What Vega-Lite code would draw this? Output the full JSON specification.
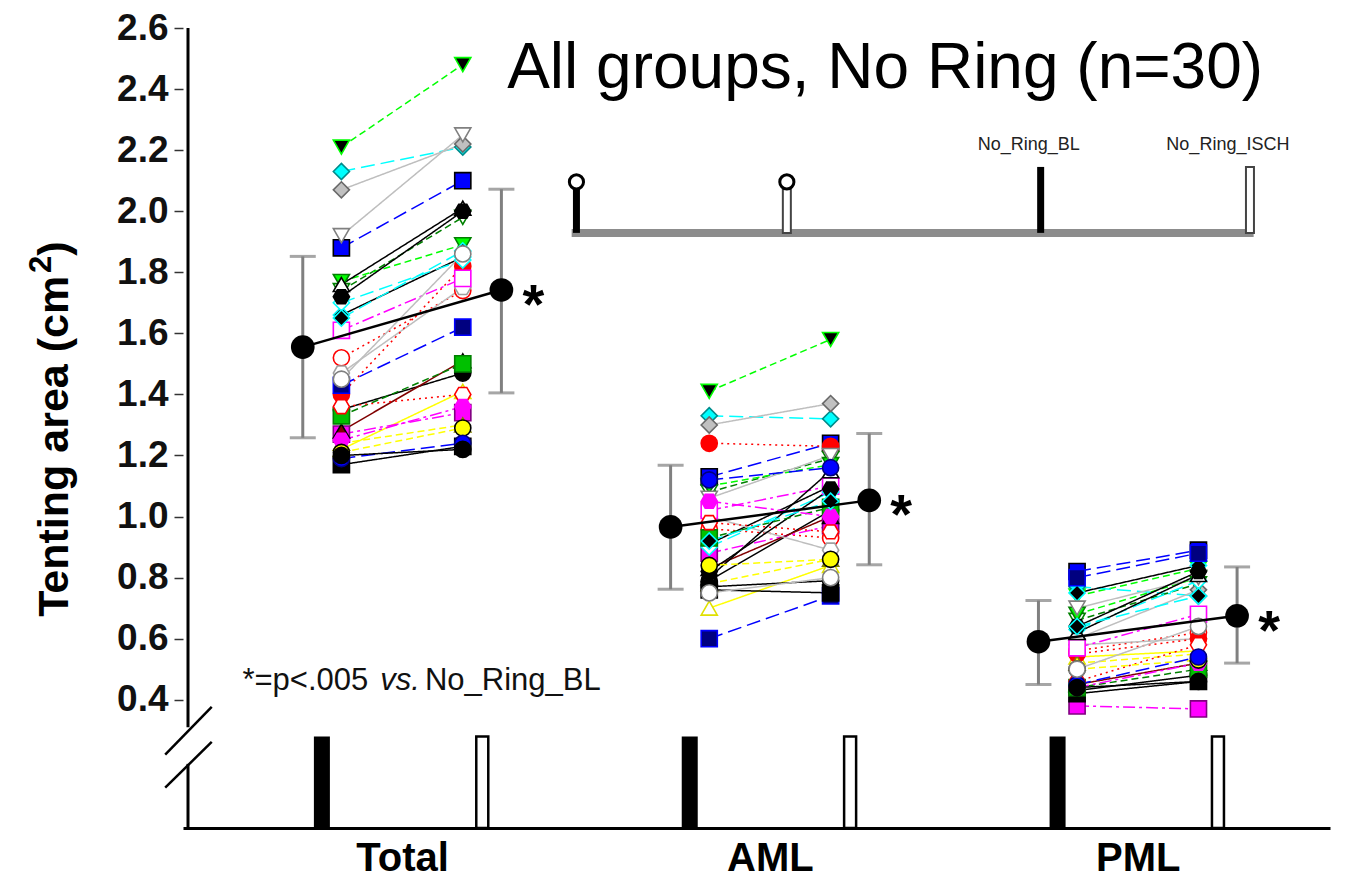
{
  "$schema": "https://vega.github.io/schema/vega-lite/v6.json",
  "width": 1147,
  "height": 800,
  "autosize": {"type": "none"},
  "padding": {"left": 183, "top": 28, "right": 21, "bottom": 67},
  "config": {"view": {"stroke": null}, "font": "Liberation Sans"},
  "datasets": {
    "subj": [
      {"s":"S1","g":"Total","BL":1.35,"ISCH":1.47},{"s":"S2","g":"Total","BL":1.52,"ISCH":1.74},{"s":"S3","g":"Total","BL":2.21,"ISCH":2.48},{"s":"S4","g":"Total","BL":1.22,"ISCH":1.41},{"s":"S5","g":"Total","BL":1.88,"ISCH":2.10},{"s":"S6","g":"Total","BL":1.27,"ISCH":1.34},{"s":"S7","g":"Total","BL":2.13,"ISCH":2.21},{"s":"S8","g":"Total","BL":2.07,"ISCH":2.22},{"s":"S9","g":"Total","BL":1.28,"ISCH":1.51},{"s":"S10","g":"Total","BL":1.74,"ISCH":1.98},
      {"s":"S11","g":"Total","BL":1.66,"ISCH":1.85},{"s":"S12","g":"Total","BL":1.47,"ISCH":1.75},{"s":"S13","g":"Total","BL":1.40,"ISCH":1.82},{"s":"S14","g":"Total","BL":1.77,"ISCH":1.89},{"s":"S15","g":"Total","BL":1.24,"ISCH":1.30},{"s":"S16","g":"Total","BL":1.43,"ISCH":1.62},{"s":"S17","g":"Total","BL":1.61,"ISCH":1.78},{"s":"S18","g":"Total","BL":1.70,"ISCH":1.84},{"s":"S19","g":"Total","BL":1.92,"ISCH":2.25},{"s":"S20","g":"Total","BL":1.17,"ISCH":1.23},
      {"s":"S21","g":"Total","BL":1.76,"ISCH":2.01},{"s":"S22","g":"Total","BL":1.72,"ISCH":2.00},{"s":"S23","g":"Total","BL":1.33,"ISCH":1.50},{"s":"S24","g":"Total","BL":1.36,"ISCH":1.40},{"s":"S25","g":"Total","BL":1.25,"ISCH":1.36},{"s":"S26","g":"Total","BL":1.21,"ISCH":1.29},{"s":"S27","g":"Total","BL":1.19,"ISCH":1.24},{"s":"S28","g":"Total","BL":1.20,"ISCH":1.22},{"s":"S29","g":"Total","BL":1.65,"ISCH":1.87},{"s":"S30","g":"Total","BL":1.45,"ISCH":1.86},
      {"s":"S1","g":"AML","BL":0.79,"ISCH":1.02},{"s":"S2","g":"AML","BL":0.96,"ISCH":0.93},{"s":"S3","g":"AML","BL":1.41,"ISCH":1.58},{"s":"S4","g":"AML","BL":0.70,"ISCH":0.84},{"s":"S5","g":"AML","BL":1.13,"ISCH":1.24},{"s":"S6","g":"AML","BL":0.88,"ISCH":0.97},{"s":"S7","g":"AML","BL":1.33,"ISCH":1.32},{"s":"S8","g":"AML","BL":1.30,"ISCH":1.37},{"s":"S9","g":"AML","BL":0.83,"ISCH":1.00},{"s":"S10","g":"AML","BL":1.08,"ISCH":1.19},
      {"s":"S11","g":"AML","BL":0.91,"ISCH":1.10},{"s":"S12","g":"AML","BL":1.00,"ISCH":0.89},{"s":"S13","g":"AML","BL":1.24,"ISCH":1.23},{"s":"S14","g":"AML","BL":1.10,"ISCH":1.17},{"s":"S15","g":"AML","BL":0.78,"ISCH":0.86},{"s":"S16","g":"AML","BL":0.60,"ISCH":0.74},{"s":"S17","g":"AML","BL":1.02,"ISCH":1.10},{"s":"S18","g":"AML","BL":0.90,"ISCH":1.08},{"s":"S19","g":"AML","BL":1.06,"ISCH":1.20},{"s":"S20","g":"AML","BL":0.76,"ISCH":0.75},
      {"s":"S21","g":"AML","BL":0.80,"ISCH":1.15},{"s":"S22","g":"AML","BL":0.82,"ISCH":1.09},{"s":"S23","g":"AML","BL":0.93,"ISCH":1.03},{"s":"S24","g":"AML","BL":0.98,"ISCH":0.95},{"s":"S25","g":"AML","BL":1.05,"ISCH":1.00},{"s":"S26","g":"AML","BL":0.84,"ISCH":0.86},{"s":"S27","g":"AML","BL":1.12,"ISCH":1.16},{"s":"S28","g":"AML","BL":0.77,"ISCH":0.79},{"s":"S29","g":"AML","BL":0.92,"ISCH":1.05},{"s":"S30","g":"AML","BL":0.75,"ISCH":0.80},
      {"s":"S1","g":"PML","BL":0.43,"ISCH":0.48},{"s":"S2","g":"PML","BL":0.56,"ISCH":0.62},{"s":"S3","g":"PML","BL":0.74,"ISCH":0.83},{"s":"S4","g":"PML","BL":0.54,"ISCH":0.56},{"s":"S5","g":"PML","BL":0.82,"ISCH":0.89},{"s":"S6","g":"PML","BL":0.38,"ISCH":0.37},{"s":"S7","g":"PML","BL":0.77,"ISCH":0.74},{"s":"S8","g":"PML","BL":0.60,"ISCH":0.76},{"s":"S9","g":"PML","BL":0.45,"ISCH":0.52},{"s":"S10","g":"PML","BL":0.66,"ISCH":0.78},
      {"s":"S11","g":"PML","BL":0.75,"ISCH":0.84},{"s":"S12","g":"PML","BL":0.58,"ISCH":0.60},{"s":"S13","g":"PML","BL":0.55,"ISCH":0.60},{"s":"S14","g":"PML","BL":0.68,"ISCH":0.80},{"s":"S15","g":"PML","BL":0.52,"ISCH":0.55},{"s":"S16","g":"PML","BL":0.80,"ISCH":0.88},{"s":"S17","g":"PML","BL":0.57,"ISCH":0.68},{"s":"S18","g":"PML","BL":0.63,"ISCH":0.79},{"s":"S19","g":"PML","BL":0.70,"ISCH":0.80},{"s":"S20","g":"PML","BL":0.42,"ISCH":0.46},
      {"s":"S21","g":"PML","BL":0.62,"ISCH":0.81},{"s":"S22","g":"PML","BL":0.64,"ISCH":0.82},{"s":"S23","g":"PML","BL":0.44,"ISCH":0.50},{"s":"S24","g":"PML","BL":0.46,"ISCH":0.58},{"s":"S25","g":"PML","BL":0.44,"ISCH":0.52},{"s":"S26","g":"PML","BL":0.50,"ISCH":0.53},{"s":"S27","g":"PML","BL":0.45,"ISCH":0.54},{"s":"S28","g":"PML","BL":0.44,"ISCH":0.46},{"s":"S29","g":"PML","BL":0.64,"ISCH":0.74},{"s":"S30","g":"PML","BL":0.50,"ISCH":0.64}
    ],
    "means": [
      {"g":"Total","c":"BL","m":1.555,"lo":1.258,"hi":1.852},
      {"g":"Total","c":"ISCH","m":1.742,"lo":1.405,"hi":2.072},
      {"g":"AML","c":"BL","m":0.966,"lo":0.762,"hi":1.168},
      {"g":"AML","c":"ISCH","m":1.053,"lo":0.842,"hi":1.272},
      {"g":"PML","c":"BL","m":0.590,"lo":0.450,"hi":0.725},
      {"g":"PML","c":"ISCH","m":0.675,"lo":0.520,"hi":0.835}
    ]
  },
  "layer": [
    {
      "data": {"name": "subj"},
      "transform": [
        {"fold": ["BL", "ISCH"], "as": ["c", "v"]},
        {"calculate": "indexof(['Total','AML','PML'], datum.g) + 1 + (datum.c == 'BL' ? -0.165 : 0.165)", "as": "xp"}
      ],
      "mark": {"type": "line", "strokeWidth": 1.5},
      "encoding": {
        "x": {"field": "xp", "type": "quantitative",
          "scale": {"domain": [0.418, 3.509], "nice": false, "zero": false},
          "axis": {"values": [1, 2, 3], "labelExpr": "['', 'Total', 'AML', 'PML'][datum.value]", "ticks": false, "grid": false, "domain": true, "domainColor": "black", "domainWidth": 3, "labelFontSize": 40, "labelFontWeight": "bold", "labelColor": "black", "labelPadding": 10, "title": null}},
        "y": {"field": "v", "type": "quantitative",
          "scale": {"domain": [-0.02, 2.6], "nice": false, "zero": false},
          "axis": {"values": [0.4, 0.6, 0.8, 1.0, 1.2, 1.4, 1.6, 1.8, 2.0, 2.2, 2.4, 2.6], "format": ".1f", "domain": false, "grid": false, "ticks": true, "tickSize": 9, "tickWidth": 1.5, "tickColor": "#333333", "labelFontSize": 37, "labelFontWeight": "bold", "labelColor": "#111111", "labelPadding": 6, "title": null}},
        "detail": {"field": "g"},
        "order": {"field": "xp"},
        "color": {"field": "s", "type": "nominal", "legend": null,
          "scale": {"domain": ["S1","S2","S3","S4","S5","S6","S7","S8","S9","S10","S11","S12","S13","S14","S15","S16","S17","S18","S19","S20","S21","S22","S23","S24","S25","S26","S27","S28","S29","S30"],
            "range": ["#000000","#FF0000","#00FF00","#FFFF00","#0000FF","#FF00FF","#00FFFF","#BEBEBE","#800000","#008000","#000000","#BEBEBE","#FF0000","#00FF00","#FFFF00","#0000FF","#FF00FF","#00FFFF","#BEBEBE","#000000","#000000","#000000","#008000","#FF0000","#FF00FF","#FFFF00","#0000FF","#000000","#00FFFF","#BEBEBE"]}},
        "strokeDash": {"field": "s", "type": "nominal", "legend": null,
          "scale": {"domain": ["S1","S2","S3","S4","S5","S6","S7","S8","S9","S10","S11","S12","S13","S14","S15","S16","S17","S18","S19","S20","S21","S22","S23","S24","S25","S26","S27","S28","S29","S30"],
            "range": [[1,0],[2,4],[7,4],[1,0],[14,6],[12,4,3,4],[14,6],[1,0],[1,0],[7,4],[1,0],[1,0],[2,4],[7,4],[7,4],[14,6],[12,4,3,4],[14,6],[1,0],[1,0],[1,0],[1,0],[7,4],[2,4],[12,4,3,4],[7,4],[14,6],[1,0],[14,6],[1,0]]}}
      }
    },
    {
      "data": {"name": "subj"},
      "transform": [
        {"fold": ["BL", "ISCH"], "as": ["c", "v"]},
        {"calculate": "indexof(['Total','AML','PML'], datum.g) + 1 + (datum.c == 'BL' ? -0.165 : 0.165)", "as": "xp"}
      ],
      "mark": {"type": "point", "filled": true, "opacity": 1, "size": 260, "strokeWidth": 1.6},
      "encoding": {
        "x": {"field": "xp", "type": "quantitative"},
        "y": {"field": "v", "type": "quantitative"},
        "fill": {"field": "s", "type": "nominal", "legend": null,
          "scale": {"domain": ["S1","S2","S3","S4","S5","S6","S7","S8","S9","S10","S11","S12","S13","S14","S15","S16","S17","S18","S19","S20","S21","S22","S23","S24","S25","S26","S27","S28","S29","S30"],
            "range": ["#000000","#FFFFFF","#000000","#FFFFFF","#0000FF","#FF00FF","#00FFFF","#C0C0C0","#800000","#FFFFFF","#000000","#FFFFFF","#FF0000","#00FF00","#FFFF00","#000080","#FFFFFF","#FFFFFF","#FFFFFF","#000000","#FFFFFF","#000000","#00C000","#FFFFFF","#FF00FF","#FFFF00","#0000FF","#000000","#000000","#FFFFFF"]}},
        "stroke": {"field": "s", "type": "nominal", "legend": null,
          "scale": {"domain": ["S1","S2","S3","S4","S5","S6","S7","S8","S9","S10","S11","S12","S13","S14","S15","S16","S17","S18","S19","S20","S21","S22","S23","S24","S25","S26","S27","S28","S29","S30"],
            "range": ["#000000","#FF0000","#00FF00","#E0E000","#000000","#800080","#008B8B","#696969","#000000","#008000","#00FFFF","#A0A0A0","#FF0000","#008000","#808000","#0000FF","#FF00FF","#00FFFF","#808080","#000000","#000000","#000000","#008000","#FF0000","#FF00FF","#000000","#000080","#000000","#00FFFF","#808080"]}},
        "shape": {"field": "s", "type": "nominal", "legend": null,
          "scale": {"domain": ["S1","S2","S3","S4","S5","S6","S7","S8","S9","S10","S11","S12","S13","S14","S15","S16","S17","S18","S19","S20","S21","S22","S23","S24","S25","S26","S27","S28","S29","S30"],
            "range": ["circle","circle","triangle-down","triangle-up","square","square","diamond","diamond","triangle-up","triangle-down","diamond","M-1,0L-0.5,-0.866L0.5,-0.866L1,0L0.5,0.866L-0.5,0.866Z","circle","triangle-down","triangle-up","square","square","diamond","triangle-down","square","triangle-up","M-1,0L-0.5,-0.866L0.5,-0.866L1,0L0.5,0.866L-0.5,0.866Z","square","M-1,0L-0.5,-0.866L0.5,-0.866L1,0L0.5,0.866L-0.5,0.866Z","M-1,0L-0.5,-0.866L0.5,-0.866L1,0L0.5,0.866L-0.5,0.866Z","circle","circle","circle","diamond","circle"]}}
      }
    },
    {
      "data": {"name": "means"},
      "transform": [
        {"filter": "datum.c == 'BL'"},
        {"calculate": "indexof(['Total','AML','PML'], datum.g) + 1 - 0.218", "as": "xb"}
      ],
      "mark": {"type": "bar", "size": 16, "color": "black"},
      "encoding": {
        "x": {"field": "xb", "type": "quantitative"},
        "y": {"datum": 0.28, "type": "quantitative"},
        "y2": {"datum": -0.02}
      }
    },
    {
      "data": {"name": "means"},
      "transform": [
        {"filter": "datum.c == 'ISCH'"},
        {"calculate": "indexof(['Total','AML','PML'], datum.g) + 1 + 0.218", "as": "xb"}
      ],
      "mark": {"type": "bar", "size": 12, "fill": "white", "stroke": "black", "strokeWidth": 2.5},
      "encoding": {
        "x": {"field": "xb", "type": "quantitative"},
        "y": {"datum": 0.28, "type": "quantitative"},
        "y2": {"datum": -0.02}
      }
    },
    {
      "data": {"name": "means"},
      "transform": [
        {"calculate": "indexof(['Total','AML','PML'], datum.g) + 1 + (datum.c == 'BL' ? -0.27 : 0.27)", "as": "xm"}
      ],
      "mark": {"type": "rule", "color": "#808080", "strokeWidth": 3},
      "encoding": {
        "x": {"field": "xm", "type": "quantitative"},
        "y": {"field": "lo", "type": "quantitative"},
        "y2": {"field": "hi"}
      }
    },
    {
      "data": {"name": "means"},
      "transform": [
        {"calculate": "indexof(['Total','AML','PML'], datum.g) + 1 + (datum.c == 'BL' ? -0.27 : 0.27)", "as": "xm"},
        {"fold": ["lo", "hi"], "as": ["end", "ev"]}
      ],
      "mark": {"type": "tick", "orient": "horizontal", "color": "#808080", "size": 26, "thickness": 3},
      "encoding": {
        "x": {"field": "xm", "type": "quantitative"},
        "y": {"field": "ev", "type": "quantitative"}
      }
    },
    {
      "data": {"name": "means"},
      "transform": [
        {"calculate": "indexof(['Total','AML','PML'], datum.g) + 1 + (datum.c == 'BL' ? -0.27 : 0.27)", "as": "xm"}
      ],
      "mark": {"type": "line", "color": "black", "strokeWidth": 2.5},
      "encoding": {
        "x": {"field": "xm", "type": "quantitative"},
        "y": {"field": "m", "type": "quantitative"},
        "detail": {"field": "g"},
        "order": {"field": "xm"}
      }
    },
    {
      "data": {"name": "means"},
      "transform": [
        {"calculate": "indexof(['Total','AML','PML'], datum.g) + 1 + (datum.c == 'BL' ? -0.27 : 0.27)", "as": "xm"}
      ],
      "mark": {"type": "point", "shape": "circle", "filled": true, "opacity": 1, "color": "black", "size": 560},
      "encoding": {
        "x": {"field": "xm", "type": "quantitative"},
        "y": {"field": "m", "type": "quantitative"}
      }
    },
    {
      "data": {"name": "means"},
      "transform": [
        {"filter": "datum.c == 'ISCH'"},
        {"calculate": "indexof(['Total','AML','PML'], datum.g) + 1 + 0.357", "as": "xa"}
      ],
      "mark": {"type": "text", "text": "*", "fontSize": 56, "fontWeight": "bold", "color": "black", "align": "center", "baseline": "alphabetic", "dy": 33},
      "encoding": {
        "x": {"field": "xa", "type": "quantitative"},
        "y": {"field": "m", "type": "quantitative"}
      }
    },
    {
      "data": {"values": [{}]},
      "mark": {"type": "rule", "color": "black", "strokeWidth": 3},
      "encoding": {"x": {"datum": 0.418, "type": "quantitative"}, "y": {"datum": 0.31, "type": "quantitative"}, "y2": {"datum": 2.6}}
    },
    {
      "data": {"values": [{}]},
      "mark": {"type": "rule", "color": "black", "strokeWidth": 3},
      "encoding": {"x": {"datum": 0.418, "type": "quantitative"}, "y": {"datum": -0.02, "type": "quantitative"}, "y2": {"datum": 0.19}}
    },
    {
      "data": {"values": [{}]},
      "mark": {"type": "rule", "color": "black", "strokeWidth": 2.5},
      "encoding": {"x": {"datum": 0.356, "type": "quantitative"}, "x2": {"datum": 0.4825}, "y": {"datum": 0.220, "type": "quantitative"}, "y2": {"datum": 0.377}}
    },
    {
      "data": {"values": [{}]},
      "mark": {"type": "rule", "color": "black", "strokeWidth": 2.5},
      "encoding": {"x": {"datum": 0.356, "type": "quantitative"}, "x2": {"datum": 0.4825}, "y": {"datum": 0.112, "type": "quantitative"}, "y2": {"datum": 0.262}}
    },
    {
      "data": {"values": [{}]},
      "mark": {"type": "rule", "color": "#8C8C8C", "strokeWidth": 8},
      "encoding": {"x": {"datum": 1.461, "type": "quantitative"}, "x2": {"datum": 3.315}, "y": {"datum": 1.929, "type": "quantitative"}}
    },
    {
      "data": {"values": [{}]},
      "mark": {"type": "bar", "size": 7, "color": "black"},
      "encoding": {"x": {"datum": 1.474, "type": "quantitative"}, "y": {"datum": 2.08, "type": "quantitative"}, "y2": {"datum": 1.929}}
    },
    {
      "data": {"values": [{}]},
      "mark": {"type": "bar", "size": 8, "fill": "white", "stroke": "#444444", "strokeWidth": 2},
      "encoding": {"x": {"datum": 2.046, "type": "quantitative"}, "y": {"datum": 2.08, "type": "quantitative"}, "y2": {"datum": 1.929}}
    },
    {
      "data": {"values": [{}]},
      "mark": {"type": "bar", "size": 7, "color": "black"},
      "encoding": {"x": {"datum": 2.736, "type": "quantitative"}, "y": {"datum": 2.145, "type": "quantitative"}, "y2": {"datum": 1.929}}
    },
    {
      "data": {"values": [{}]},
      "mark": {"type": "bar", "size": 8, "fill": "white", "stroke": "#444444", "strokeWidth": 2},
      "encoding": {"x": {"datum": 3.305, "type": "quantitative"}, "y": {"datum": 2.145, "type": "quantitative"}, "y2": {"datum": 1.929}}
    },
    {
      "data": {"values": [{}]},
      "mark": {"type": "point", "shape": "circle", "filled": false, "opacity": 1, "color": "black", "fill": "white", "size": 200, "strokeWidth": 3},
      "encoding": {"x": {"datum": 1.474, "type": "quantitative"}, "y": {"datum": 2.096, "type": "quantitative"}}
    },
    {
      "data": {"values": [{}]},
      "mark": {"type": "point", "shape": "circle", "filled": false, "opacity": 1, "color": "black", "fill": "white", "size": 200, "strokeWidth": 3},
      "encoding": {"x": {"datum": 2.046, "type": "quantitative"}, "y": {"datum": 2.096, "type": "quantitative"}}
    },
    {
      "data": {"values": [{}]},
      "mark": {"type": "text", "text": "No_Ring_BL", "fontSize": 18, "color": "#222222", "align": "center", "baseline": "alphabetic"},
      "encoding": {"x": {"datum": 2.7035, "type": "quantitative"}, "y": {"datum": 2.2, "type": "quantitative"}}
    },
    {
      "data": {"values": [{}]},
      "mark": {"type": "text", "text": "No_Ring_ISCH", "fontSize": 18, "color": "#222222", "align": "center", "baseline": "alphabetic"},
      "encoding": {"x": {"datum": 3.245, "type": "quantitative"}, "y": {"datum": 2.2, "type": "quantitative"}}
    },
    {
      "data": {"values": [{}]},
      "mark": {"type": "text", "text": "All groups, No Ring (n=30)", "fontSize": 64, "color": "black", "align": "left", "baseline": "alphabetic"},
      "encoding": {"x": {"datum": 1.2857, "type": "quantitative"}, "y": {"datum": 2.404, "type": "quantitative"}}
    },
    {
      "data": {"values": [{}]},
      "mark": {"type": "text", "text": "*=p<.005", "fontSize": 31, "color": "#111111", "align": "left", "baseline": "alphabetic"},
      "encoding": {"x": {"datum": 0.566, "type": "quantitative"}, "y": {"datum": 0.433, "type": "quantitative"}}
    },
    {
      "data": {"values": [{}]},
      "mark": {"type": "text", "text": "vs.", "fontSize": 31, "fontStyle": "italic", "color": "#111111", "align": "left", "baseline": "alphabetic"},
      "encoding": {"x": {"datum": 0.9407, "type": "quantitative"}, "y": {"datum": 0.433, "type": "quantitative"}}
    },
    {
      "data": {"values": [{}]},
      "mark": {"type": "text", "text": "No_Ring_BL", "fontSize": 31, "color": "#111111", "align": "left", "baseline": "alphabetic"},
      "encoding": {"x": {"datum": 1.062, "type": "quantitative"}, "y": {"datum": 0.433, "type": "quantitative"}}
    },
    {
      "data": {"values": [{}]},
      "mark": {"type": "text", "text": "Tenting area (cm", "fontSize": 43, "fontWeight": "bold", "color": "black", "angle": 270, "align": "left", "baseline": "alphabetic"},
      "encoding": {"x": {"datum": 0.0916, "type": "quantitative"}, "y": {"datum": 0.672, "type": "quantitative"}}
    },
    {
      "data": {"values": [{}]},
      "mark": {"type": "text", "text": "2", "fontSize": 31, "fontWeight": "bold", "color": "black", "angle": 270, "align": "left", "baseline": "alphabetic"},
      "encoding": {"x": {"datum": 0.0458, "type": "quantitative"}, "y": {"datum": 1.798, "type": "quantitative"}}
    },
    {
      "data": {"values": [{}]},
      "mark": {"type": "text", "text": ")", "fontSize": 43, "fontWeight": "bold", "color": "black", "angle": 270, "align": "left", "baseline": "alphabetic"},
      "encoding": {"x": {"datum": 0.0916, "type": "quantitative"}, "y": {"datum": 1.854, "type": "quantitative"}}
    }
  ]
}
